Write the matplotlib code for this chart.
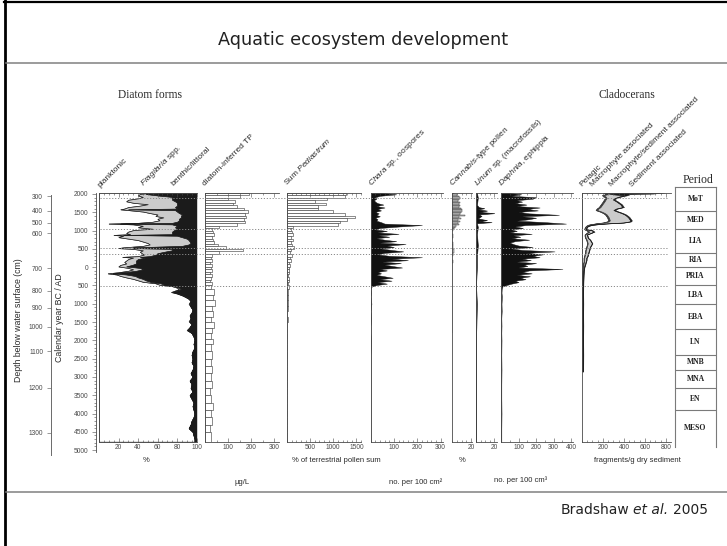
import numpy as np
import matplotlib
matplotlib.use("Agg")
import matplotlib.pyplot as plt
from matplotlib.lines import Line2D
from matplotlib.transforms import Affine2D, blended_transform_factory
from matplotlib.offsetbox import TextArea, HPacker, AnnotationBbox
from matplotlib.ticker import MultipleLocator

# ---------------------------------------------------------------- data
# calendar years: AD positive, BC negative

# diatom life forms (%)
yr_diatom = [2035, 2000, 1960, 1920, 1880, 1840, 1800, 1760, 1720, 1680,
             1640, 1600, 1580, 1560, 1520, 1480, 1440, 1400, 1360, 1320,
             1280, 1240, 1210, 1190, 1170, 1130, 1090, 1050, 1010, 970,
             930, 900, 880, 860, 820, 780, 740, 700, 660, 620,
             580, 540, 520, 500, 460, 420, 380, 340, 300, 280,
             260, 220, 180, 140, 100, 60, 20, -20, -60, -100,
             -140, -170, -200, -240, -280, -320, -360, -400, -440, -480,
             -520, -560, -600, -640, -680, -720, -780, -850, -920, -1000,
             -1080, -1160, -1240, -1320, -1400, -1480, -1560, -1640, -1720, -1800,
             -1900, -2000, -2100, -2200, -2300, -2400, -2500, -2600, -2700, -2800,
             -2900, -3000, -3100, -3200, -3300, -3400, -3500, -3600, -3700, -3800,
             -3900, -4000, -4100, -4200, -4300, -4400, -4500, -4600, -4700, -4770]
planktonic = [55, 42, 40, 45, 40, 30, 28, 35, 50, 42,
              30, 26, 22, 30, 45, 52, 60, 58, 66, 60,
              62, 55, 40, 10, 35, 45, 40, 55, 35, 30,
              28, 32, 15, 25, 20, 30, 40, 45, 50, 52,
              45, 25, 20, 35, 45, 42, 44, 46, 40, 24,
              35, 30, 28, 26, 28, 22, 20, 30, 35, 30,
              20, 9, 18, 22, 28, 35, 40, 45, 58, 62,
              75, 80, 82, 78, 74, 80, 86, 91, 94, 92,
              94, 96, 95, 93, 94, 92, 95, 93, 90, 95,
              97, 98, 97, 98, 96, 95, 96, 95, 97, 96,
              94, 96, 93, 95, 94, 96, 93, 95, 97, 96,
              97, 98, 97, 95, 94, 92, 96, 97, 98, 98]
fragilaria = [25, 6, 20, 30, 35, 45, 50, 45, 30, 38,
              48, 54, 8, 48, 35, 30, 25, 26, 18, 22,
              20, 25, 35, 12, 40, 35, 38, 25, 42, 45,
              47, 43, 10, 55, 65, 60, 52, 48, 44, 40,
              40, 10, 15, 40, 30, 25, 16, 12, 12, 18,
              12, 10, 10, 12, 10, 12, 8, 12, 10, 8,
              6, 5, 10, 15, 12, 10, 8, 8, 5, 5,
              3, 2, 2, 2, 2, 1, 1, 1, 0, 1,
              0, 0, 0, 0, 0, 1, 0, 0, 1, 0,
              0, 0, 0, 0, 0, 0, 0, 0, 0, 0,
              0, 0, 0, 0, 0, 0, 0, 0, 0, 0,
              0, 0, 0, 0, 0, 0, 0, 0, 0, 0]
benthic = [20, 52, 40, 25, 25, 25, 22, 20, 20, 20,
           22, 20, 70, 22, 20, 18, 15, 16, 16, 18,
           18, 20, 25, 78, 25, 20, 22, 20, 23, 25,
           25, 25, 75, 20, 15, 10, 8, 7, 6, 8,
           15, 65, 65, 25, 25, 33, 40, 42, 48, 58,
           53, 60, 62, 62, 62, 66, 72, 58, 55, 62,
           74, 86, 72, 63, 60, 55, 52, 47, 37, 33,
           22, 18, 16, 20, 24, 19, 13, 8, 6, 7,
           6, 4, 5, 7, 6, 7, 5, 7, 9, 5,
           3, 2, 3, 2, 4, 5, 4, 5, 3, 4,
           6, 4, 7, 5, 6, 4, 7, 5, 3, 4,
           3, 2, 3, 5, 6, 8, 4, 3, 2, 2]

# diatom-inferred TP (ug/L) and Pediastrum (% of terrestrial pollen sum)
yr_samples = [2040, 1975, 1900, 1830, 1760, 1690, 1620, 1550, 1480, 1410,
              1340, 1270, 1200, 1130, 1060, 990, 920, 850, 780, 710,
              640, 570, 500, 430, 360, 290, 220, 150, 80, 10,
              -60, -130, -200, -270, -340, -410, -480, -600, -750, -900,
              -1050, -1200, -1350, -1500, -1650, -1800, -1950, -2100, -2300, -2500,
              -2700, -2900, -3100, -3300, -3500, -3700, -3900, -4100, -4300, -4500,
              -4770]
tp = [190, 150, 100, 130, 120, 140, 170, 185, 175, 180,
      170, 175, 140, 60, 30, 35, 40, 30, 35, 40,
      55, 90, 165, 60, 30, 25, 30, 20, 30, 25,
      30, 20, 30, 25, 20, 30, 25, 40, 35, 45,
      30, 35, 25, 40, 30, 28, 35, 25, 30, 28,
      32, 25, 30, 22, 28, 35, 25, 30, 22, 28,
      20]
pediastrum = [1270, 1250, 870, 600, 840, 660, 680, 1000, 1250, 1470,
              1300, 1150, 1100, 120, 80, 100, 140, 90, 120, 80,
              100, 150, 90, 70, 100, 60, 80, 50, 70, 40,
              50, 40, 30, 50, 40, 30, 40, 30, 20, 15,
              20, 10, 15, 10, 5, 10, 5, 0, 5, 0,
              5, 0, 0, 5, 0, 0, 5, 0, 0, 0,
              0]

# Chara oospores (no. per 100 cm2) and Daphnia ephippia (no. per 100 cm3)
yr_dense = [2030, 1990, 1950, 1910, 1870, 1830, 1790, 1750,
            1710, 1670, 1630, 1590, 1550, 1510, 1470, 1430,
            1390, 1350, 1310, 1270, 1230, 1190, 1150, 1110,
            1070, 1030, 990, 950, 910, 870, 830, 790,
            750, 710, 670, 630, 590, 550, 510, 470,
            430, 390, 350, 310, 270, 230, 190, 150,
            110, 70, 30, -10, -50, -90, -130, -170,
            -210, -250, -290, -330, -370, -410, -450, -490,
            -530, -600, -700, -800, -1000, -1200, -1400, -1600,
            -1800, -2000, -2400, -2800, -3200, -3600, -4000, -4400,
            -4770]
chara = [50, 110, 40, 20, 25, 15, 20, 30,
         55, 25, 60, 30, 45, 20, 35, 25,
         40, 20, 30, 25, 45, 60, 220, 120,
         40, 20, 70, 30, 120, 35, 80, 25,
         60, 110, 40, 150, 70, 100, 45, 90,
         140, 60, 30, 80, 220, 90, 160, 50,
         130, 60, 95, 135, 40, 70, 30, 45,
         25, 60, 95, 40, 90, 30, 70, 25,
         5, 0, 3, 0, 4, 0, 3, 0,
         0, 2, 0, 0, 0, 0, 0, 0,
         0]
daphnia = [50, 115, 60, 200, 180, 90, 120, 80,
           145, 90, 220, 150, 210, 100, 160, 330,
           120, 200, 160, 90, 250, 370, 140, 80,
           125, 60, 90, 50, 175, 70, 110, 60,
           160, 80, 50, 70, 100, 180, 60, 120,
           305, 140, 240, 180, 220, 120, 170, 90,
           200, 130, 150, 100, 350, 160, 120, 175,
           90, 165, 110, 140, 80, 100, 60, 30,
           8, 4, 3, 5, 3, 4, 2, 3,
           2, 3, 2, 3, 2, 2, 3, 2,
           2]

# Cannabis-type pollen (%)
yr_cannabis = [2040, 1990, 1950, 1910, 1870, 1830, 1790, 1750, 1710, 1670,
               1630, 1590, 1550, 1510, 1470, 1430, 1390, 1350, 1310, 1270,
               1230, 1190, 1150, 1110, 1070, 1030, 990, 950, 900, 800,
               700, 600, 500, 400, 300, 200, 100, 0, -100, -200,
               -300, -400, -500, -600, -800, -1000, -1200, -1400, -1600, -1800]
cannabis = [2, 5, 7, 8, 7, 6, 8, 7, 8, 7,
            9, 11, 10, 9, 8, 14, 7, 9, 6, 8,
            6, 7, 4, 3, 2, 1, 0.5, 0.5, 1, 0.5,
            1, 1.5, 2, 1, 0.5, 1, 0.5, 0.5, 0.3, 0.5,
            0.3, 0, 0, 0, 0, 0, 0, 0, 0, 0]

# Linum macrofossils
yr_linum = [2030, 1900, 1700, 1640, 1610, 1580, 1545, 1510, 1475, 1440,
            1400, 1330, 1285, 1255, 1230, 1200, 1100, 900, 600, 300,
            0, -500, -1000, -2000, -3000, -4000, -4770]
linum = [1, 2, 1, 3, 9, 2, 12, 4, 20, 3,
         6, 2, 12, 3, 17, 1, 2, 1, 2, 1,
         1, 0, 1, 0, 0, 0, 0]

# Cladoceran groups (fragments/g dry sediment)
yr_clad = [2040, 2010, 1990, 1965, 1930, 1890, 1850, 1800, 1760, 1720,
           1680, 1640, 1600, 1560, 1520, 1480, 1440, 1400, 1360, 1320,
           1280, 1250, 1220, 1190, 1160, 1130, 1100, 1070, 1040, 1010,
           970, 930, 890, 850, 800, 750, 700, 650, 600, 550,
           500, 450, 400, 350, 300, 250, 200, 150, 100, 50,
           0, -100, -200, -300, -400, -500, -700, -1000, -1300, -1600,
           -2000, -2400, -2850]
clad_pelagic = [200, 220, 220, 190, 210, 220, 210, 200, 190, 180,
                170, 160, 140, 130, 170, 200, 220, 230, 240, 245,
                250, 240, 200, 120, 60, 40, 30, 25, 20, 40,
                60, 40, 25, 25, 30, 40, 45, 50, 45, 40,
                35, 30, 30, 25, 20, 15, 15, 15, 10, 10,
                8, 6, 5, 5, 5, 5, 5, 6, 5, 6,
                5, 6, 5]
clad_macrophyte = [20, 20, 20, 15, 15, 15, 15, 15, 15, 15,
                   15, 15, 15, 15, 15, 15, 15, 15, 15, 15,
                   15, 15, 15, 10, 10, 5, 5, 5, 5, 10,
                   10, 10, 5, 5, 5, 5, 5, 5, 5, 5,
                   5, 5, 5, 5, 5, 5, 5, 5, 5, 5,
                   4, 3, 3, 3, 3, 3, 3, 3, 3, 3,
                   3, 3, 3]
clad_macro_sed = [0, 20, 60, 200, 130, 80, 70, 110, 140, 170,
                  190, 210, 170, 155, 150, 160, 170, 180, 185, 190,
                  195, 200, 180, 80, 30, 15, 10, 10, 10, 40,
                  40, 30, 15, 20, 20, 30, 35, 40, 35, 30,
                  30, 30, 25, 25, 25, 20, 20, 15, 15, 10,
                  8, 6, 5, 4, 3, 2, 1, 1, 1, 1,
                  1, 1, 1]
clad_sediment = [570, 420, 150, 30, 20, 15, 15, 15, 15, 15,
                 15, 15, 15, 15, 15, 15, 15, 15, 15, 15,
                 15, 15, 15, 10, 10, 5, 5, 5, 5, 10,
                 10, 5, 5, 5, 5, 5, 5, 5, 5, 5,
                 5, 5, 5, 5, 5, 5, 5, 5, 5, 5,
                 4, 3, 3, 3, 3, 3, 3, 3, 3, 3,
                 3, 3, 3]

# zone boundaries drawn as dotted lines
zone_years = [1890, 1040, 520, 360, -510]

# archaeological periods (boundaries between consecutive periods)
period_names = ["MoT", "MED", "LIA", "RIA", "PRIA", "LBA", "EBA",
                "LN", "MNB", "MNA", "EN", "MESO"]
period_bounds = [1536, 1050, 375, 0, -500, -1000, -1700, -2400, -2800, -3300, -3900]

# time axis
year_ticks = [2000, 1500, 1000, 500, 0, -500, -1000, -1500, -2000,
              -2500, -3000, -3500, -4000, -4500, -5000]
year_tick_labels = ["2000", "1500", "1000", "500", "0", "500", "1000", "1500", "2000",
                    "2500", "3000", "3500", "4000", "4500", "5000"]

# age-depth relation for the depth scale
depth_cm = [300, 400, 500, 600, 700, 800, 900, 1000, 1100, 1200, 1300]
depth_age = [1937, 1537, 1210, 921, -33, -651, -1106, -1624, -2305, -3302, -4529]

# ---------------------------------------------------------------- style
plt.rcParams.update({
    "font.family": ["Liberation Sans", "DejaVu Sans"],
    "mathtext.fontset": "custom",
    "mathtext.rm": "Liberation Sans",
    "mathtext.it": "Liberation Sans:italic",
    "mathtext.bf": "Liberation Sans:bold",
})

W, H = 727, 546
fig = plt.figure(figsize=(W / 100, H / 100), dpi=100)
fig.patch.set_facecolor("white")
PX = Affine2D().scale(1 / W, -1 / H).translate(0, 1) + fig.transFigure


def box(x0, y0, x1, y1):
    return [x0 / W, 1 - y1 / H, (x1 - x0) / W, (y1 - y0) / H]


PANEL_TOP, PANEL_BOTTOM = 192.5, 441.7
YEAR_TOP, YEAR_BOTTOM = 2040, -4770
PX_PER_YEAR = (PANEL_BOTTOM - PANEL_TOP) / (YEAR_TOP - YEAR_BOTTOM)


def year_span(top_px, bottom_px):
    return (YEAR_TOP - (bottom_px - PANEL_TOP) / PX_PER_YEAR,
            YEAR_TOP - (top_px - PANEL_TOP) / PX_PER_YEAR)


AXIS_COLOR = "#4a4a4a"
TEXT_COLOR = "#2a2a2a"
TICK_SIZE = 4.8
DARK = "#1b1b1b"
GREY = "#cbcbcb"


def panel(x0, x1, xmax, majors, minor):
    ax = fig.add_axes(box(x0, PANEL_TOP, x1, PANEL_BOTTOM))
    ax.set_xlim(0, xmax)
    ax.set_ylim(YEAR_BOTTOM, YEAR_TOP)
    ax.patch.set_visible(False)
    ax.spines["right"].set_visible(False)
    for s in ("left", "top", "bottom"):
        ax.spines[s].set_color(AXIS_COLOR)
        ax.spines[s].set_linewidth(0.6)
    ax.yaxis.set_visible(False)
    ax.set_xticks(majors, labels=[str(m) for m in majors])
    ax.xaxis.set_minor_locator(MultipleLocator(minor))
    ax.tick_params(axis="x", which="both", direction="in", top=True, bottom=True,
                   labeltop=False, labelbottom=True, colors=AXIS_COLOR,
                   labelsize=TICK_SIZE, pad=2, width=0.4)
    ax.tick_params(axis="x", which="major", length=2.6)
    ax.tick_params(axis="x", which="minor", length=1.3)
    return ax


# ---------------------------------------------------------------- panels
# diatom forms (stacked percentages)
ax1 = panel(99, 196.5, 100, [20, 40, 60, 80, 100], 5)
c1 = np.array(planktonic, float)
c2 = c1 + np.array(fragilaria, float)
c3 = c2 + np.array(benthic, float)
ax1.fill_betweenx(yr_diatom, 0, c1, facecolor="white", edgecolor="#222", linewidth=0.5)
ax1.fill_betweenx(yr_diatom, c1, c2, facecolor=GREY, edgecolor="#222", linewidth=0.5)
ax1.fill_betweenx(yr_diatom, c2, c3, facecolor=DARK, edgecolor=DARK, linewidth=0.3)

# diatom-inferred TP
ax2 = panel(205, 278.6, 320, [100, 200, 300], 50)
ax2.barh(yr_samples[:-1], tp[:-1], height=np.diff(yr_samples), align="edge",
         color="white", edgecolor="#333", linewidth=0.4)

# Pediastrum
ax3 = panel(287, 361, 1600, [500, 1000, 1500], 100)
ax3.barh(yr_samples[:-1], pediastrum[:-1], height=np.diff(yr_samples), align="edge",
         color="white", edgecolor="#333", linewidth=0.4)

# Chara oospores
ax4 = panel(370.5, 443, 310, [100, 200, 300], 20)
ax4.fill_betweenx(yr_dense, 0, chara, facecolor="#111", edgecolor="#111", linewidth=0.3)

# Cannabis-type pollen
ax5 = panel(452, 472, 21, [20], 5)
ax5.barh(yr_cannabis[:-1], cannabis[:-1], height=np.diff(yr_cannabis), align="edge",
         color="#c4c4c4", edgecolor="#444", linewidth=0.35)

# Linum macrofossils
ax6 = panel(476, 497, 23, [20], 5)
ax6.fill_betweenx(yr_linum, 0, linum, facecolor="#111", edgecolor="#111", linewidth=0.4)

# Daphnia ephippia
ax7 = panel(501, 573, 410, [100, 200, 300, 400], 50)
ax7.fill_betweenx(yr_dense, 0, daphnia, facecolor="#111", edgecolor="#111", linewidth=0.3)

# Cladocerans (stacked groups)
ax8 = panel(582, 671, 848, [200, 400, 600, 800], 50)
k1 = np.array(clad_pelagic, float)
k2 = k1 + np.array(clad_macrophyte, float)
k3 = k2 + np.array(clad_macro_sed, float)
k4 = k3 + np.array(clad_sediment, float)
ax8.fill_betweenx(yr_clad, 0, k1, facecolor="white", edgecolor="#333", linewidth=0.5)
ax8.fill_betweenx(yr_clad, k1, k2, facecolor="#3a3a3a", edgecolor="#3a3a3a", linewidth=0.3)
ax8.fill_betweenx(yr_clad, k2, k3, facecolor=GREY, edgecolor="#333", linewidth=0.5)
ax8.fill_betweenx(yr_clad, k3, k4, facecolor=DARK, edgecolor=DARK, linewidth=0.3)

# dotted zone lines across all panels
blend = blended_transform_factory(fig.transFigure, ax1.transData)
for yz in zone_years:
    fig.add_artist(Line2D([100 / W, 668 / W], [yz, yz], transform=blend,
                          color="#8a8a8a", linewidth=0.7, linestyle=(0, (1.2, 1.8)),
                          zorder=5))

# ---------------------------------------------------------------- time axes
axy = fig.add_axes(box(96, PANEL_TOP, 97, 452))
axy.set_ylim(*year_span(PANEL_TOP, 452))
axy.patch.set_visible(False)
for s in ("right", "top", "bottom"):
    axy.spines[s].set_visible(False)
axy.spines["left"].set_color(AXIS_COLOR)
axy.spines["left"].set_linewidth(0.6)
axy.xaxis.set_visible(False)
axy.set_yticks(year_ticks, labels=year_tick_labels)
axy.yaxis.set_minor_locator(MultipleLocator(100))
axy.tick_params(axis="y", which="both", direction="out", colors=AXIS_COLOR,
                labelsize=TICK_SIZE, pad=2.5, width=0.4)
axy.tick_params(axis="y", which="major", length=3)
axy.tick_params(axis="y", which="minor", length=1.5)

axd = fig.add_axes(box(50.7, 195, 51.7, 455))
axd.set_ylim(*year_span(195, 455))
axd.patch.set_visible(False)
for s in ("right", "top", "bottom"):
    axd.spines[s].set_visible(False)
axd.spines["left"].set_color("#6a6a6a")
axd.spines["left"].set_linewidth(0.7)
axd.xaxis.set_visible(False)
axd.set_yticks(depth_age, labels=[str(d) for d in depth_cm])
axd.tick_params(axis="y", which="major", direction="out", colors=AXIS_COLOR,
                labelsize=TICK_SIZE, pad=2.5, width=0.4, length=3)

fig.text(19, 320, "Depth below water surface (cm)", transform=PX, rotation=90,
         ha="center", va="center", fontsize=6.3, color=TEXT_COLOR)
fig.text(60, 318, "Calendar year BC / AD", transform=PX, rotation=90,
         ha="center", va="center", fontsize=6.3, color=TEXT_COLOR)

# ---------------------------------------------------------------- periods
p_top, p_bot = 187, 446.7
axp = fig.add_axes(box(675, p_top, 716, p_bot))
p_lo, p_hi = year_span(p_top, p_bot)
axp.set_ylim(p_lo, p_hi)
axp.set_xlim(0, 1)
axp.patch.set_visible(False)
axp.set_xticks([])
axp.set_yticks([])
axp.spines["bottom"].set_visible(False)
for s in ("left", "right", "top"):
    axp.spines[s].set_color("#7a7a7a")
    axp.spines[s].set_linewidth(0.8)
edges = [p_hi] + period_bounds + [p_lo]
for b in period_bounds:
    axp.axhline(b, color="#7a7a7a", linewidth=0.8)
for name, a, b in zip(period_names, edges[:-1], edges[1:]):
    axp.text(0.5, (a + b) / 2, name, ha="center", va="center", fontsize=5.5,
             fontweight="bold", family="Liberation Serif", color="#222")

fig.text(698, 180, "Period", transform=PX, ha="center", va="center",
         fontsize=8.5, family="Liberation Serif", color=TEXT_COLOR)

# ---------------------------------------------------------------- headers
fig.text(150, 95, "Diatom forms", transform=PX, ha="center", va="center",
         fontsize=8.3, family="Liberation Serif", color=TEXT_COLOR)
fig.text(627, 95, "Cladocerans", transform=PX, ha="center", va="center",
         fontsize=8.3, family="Liberation Serif", color=TEXT_COLOR)

col_labels = [
    (100, 188, "planktonic"),
    (143, 186, r"$\mathit{Fragilaria}$ spp."),
    (173, 186, "benthic/littoral"),
    (205, 186, "diatom-inferred TP"),
    (287, 186, r"Sum $\mathit{Pediastrum}$"),
    (371, 186, r"$\mathit{Chara}$ sp., oospores"),
    (452, 186, r"$\mathit{Cannabis}$-type pollen"),
    (477, 186, r"$\mathit{Linum}$ sp. (macrofossils)"),
    (501, 186, r"$\mathit{Daphnia}$, ephippia"),
    (582, 187, "Pelagic"),
    (593, 187, "Macrophyte associated"),
    (612, 187, "Macrophyte/sediment associated"),
    (632, 187, "Sediment associated"),
]
for x, y, s in col_labels:
    fig.text(x, y, s, transform=PX, rotation=45, rotation_mode="anchor",
             ha="left", va="baseline", fontsize=6, color=TEXT_COLOR)

unit_labels = [
    (146, 460, "%"),
    (336, 460, "% of terrestrial pollen sum"),
    (462, 460, "%"),
    (637, 460, "fragments/g dry sediment"),
    (242, 482, "µg/L"),
    (416, 482, "no. per 100 cm²"),
    (521, 480, "no. per 100 cm³"),
]
for x, y, s in unit_labels:
    fig.text(x, y, s, transform=PX, ha="center", va="center",
             fontsize=5.5, color=TEXT_COLOR)

# ---------------------------------------------------------------- slide frame
fig.text(363.5, 40, "Aquatic ecosystem development", transform=PX, ha="center",
         va="center", fontsize=12.7, family="DejaVu Sans", color="#222")

ref_style = dict(family="DejaVu Sans", fontsize=10, color="#222")
ref = HPacker(children=[TextArea("Bradshaw", textprops=ref_style),
                        TextArea("et al.", textprops=dict(ref_style, style="italic")),
                        TextArea("2005", textprops=ref_style)],
              align="baseline", pad=0, sep=3.2)
fig.add_artist(AnnotationBbox(ref, (708 / W, 1 - 510 / H), xycoords="figure fraction",
                              box_alignment=(1, 0.5), frameon=False, pad=0))

fig.add_artist(Line2D([5.3, 5.3], [0, H], transform=PX, color="black", linewidth=2.0))
fig.add_artist(Line2D([4, W], [1.5, 1.5], transform=PX, color="black", linewidth=1.6))
for yr_rule in (62.7, 492):
    fig.add_artist(Line2D([6, W], [yr_rule, yr_rule], transform=PX,
                          color="#808080", linewidth=1.1))

fig.savefig("out.png", dpi=100)
